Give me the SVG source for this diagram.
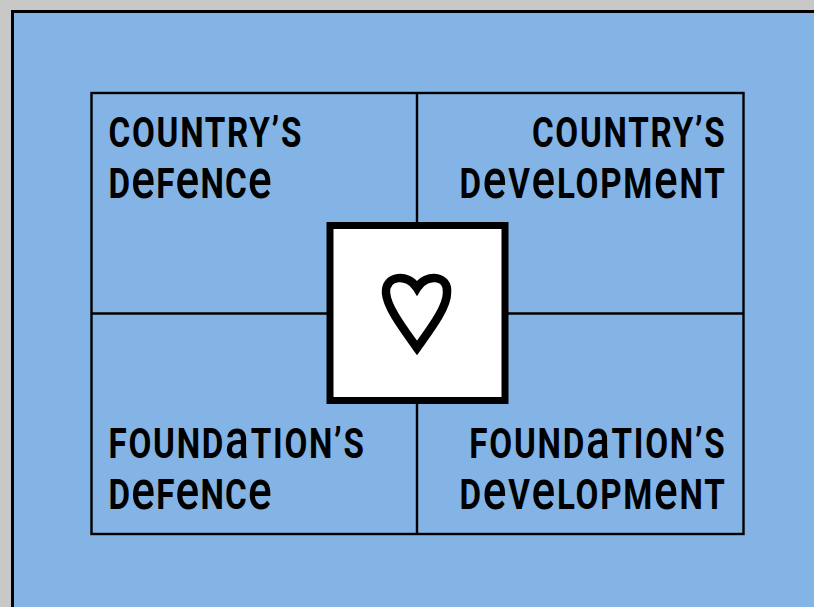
<svg xmlns="http://www.w3.org/2000/svg" width="814" height="607" viewBox="0 0 814 607">
<style>
.t{font-family:"Roboto","Liberation Sans",sans-serif;font-size:42px;font-weight:700;fill:#000;letter-spacing:2.2px}
.r{text-anchor:end}
.d{letter-spacing:1.5px}
.l{font-size:56px;font-weight:500}
.g{fill:none;stroke:#000;stroke-width:2.4}
</style>
<rect width="814" height="607" fill="#c8c8c8"/>
<rect x="12.500" y="11.500" width="810" height="610" fill="#84b4e5" stroke="#000" stroke-width="3"/>
<g id="connectors">
<rect class="g" x="91.500" y="93" width="652" height="441"/>
<path class="g" d="M417 93V534M91.500 313.500H743.500"/>
</g>
<g id="q1">
<text class="t" transform="translate(108.500 147) scale(.79 1)">COUNTRY’S</text>
<text class="t d" transform="translate(108.500 198) scale(.79 1)">D<tspan class="l">e</tspan>F<tspan class="l">e</tspan>NC<tspan class="l">e</tspan></text>
</g>
<g id="q2">
<text class="t r" transform="translate(726.500 147) scale(.79 1)">COUNTRY’S</text>
<text class="t r" transform="translate(726.500 198) scale(.79 1)">D<tspan class="l">e</tspan>V<tspan class="l">e</tspan>LOPM<tspan class="l">e</tspan>NT</text>
</g>
<g id="q3">
<text class="t" transform="translate(108.500 458) scale(.79 1)">FOUND<tspan class="l">a</tspan>TION’S</text>
<text class="t d" transform="translate(108.500 509) scale(.79 1)">D<tspan class="l">e</tspan>F<tspan class="l">e</tspan>NC<tspan class="l">e</tspan></text>
</g>
<g id="q4">
<text class="t r" transform="translate(726.500 458) scale(.79 1)">FOUND<tspan class="l">a</tspan>TION’S</text>
<text class="t r" transform="translate(726.500 509) scale(.79 1)">D<tspan class="l">e</tspan>V<tspan class="l">e</tspan>LOPM<tspan class="l">e</tspan>NT</text>
</g>
<g id="heart">
<rect x="330" y="225.500" width="175" height="175" fill="#fff" stroke="#000" stroke-width="7"/>
<path d="M417 348C405 331 387 308 386 293C385 275 408 273 417 288C426 273 449 275 447 293C447 308 429 331 417 348Z" fill="none" stroke="#000" stroke-width="8.500" stroke-linejoin="miter"/>
</g>
</svg>
